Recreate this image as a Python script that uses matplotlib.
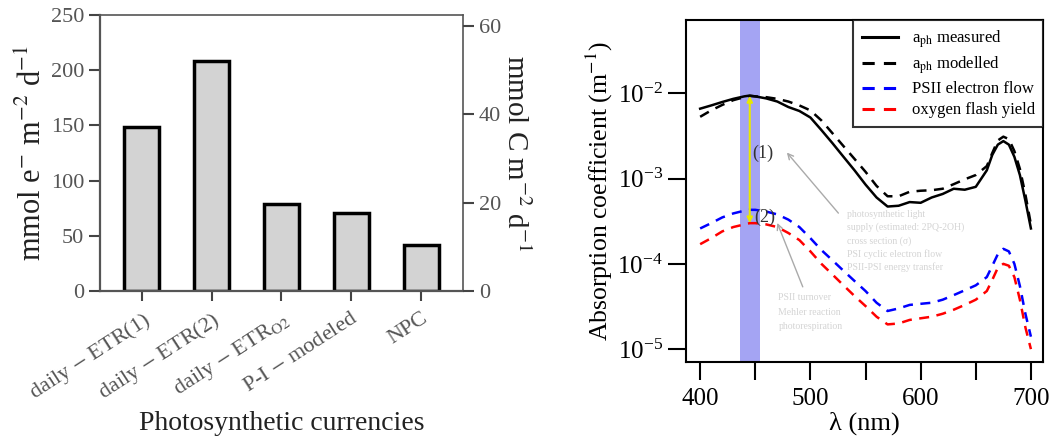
import numpy as np
import matplotlib
matplotlib.use("Agg")
import matplotlib.pyplot as plt

plt.rcParams['font.family'] = ['Liberation Serif', 'DejaVu Serif']
plt.rcParams['mathtext.fontset'] = 'stix'

# ---------------- data: left panel (bars) ----------------
currencies = ['daily $-$ ETR(1)', 'daily $-$ ETR(2)', 'daily $-$ ETR$_{\\mathrm{O2}}$',
              'P-I $-$ modeled', 'NPC']
rates = [149, 208, 79, 71, 42]

# ---------------- data: right panel (spectra) ----------------
wl = [400, 410, 420, 430, 440, 445, 450, 460, 470, 480, 490, 500, 510, 520, 530,
      540, 550, 560, 570, 580, 590, 600, 610, 620, 630, 640, 650, 660, 665, 670,
      675, 680, 685, 690, 695, 700]
aph_measured = [6.6e-3, 7.2e-3, 7.9e-3, 8.6e-3, 9.2e-3, 9.4e-3, 9.2e-3, 8.7e-3, 8.0e-3,
                6.9e-3, 6.2e-3, 5.2e-3, 3.7e-3, 2.6e-3, 1.8e-3, 1.25e-3, 8.5e-4, 6.0e-4,
                4.7e-4, 4.8e-4, 5.3e-4, 5.2e-4, 6.0e-4, 6.6e-4, 7.6e-4, 7.4e-4, 8.0e-4,
                1.25e-3, 1.9e-3, 2.5e-3, 2.75e-3, 2.5e-3, 1.8e-3, 1.1e-3, 5.5e-4, 2.6e-4]
aph_modelled = [5.3e-3, 6.3e-3, 7.3e-3, 8.3e-3, 9.0e-3, 9.3e-3, 9.2e-3, 9.0e-3, 8.6e-3,
                8.0e-3, 7.2e-3, 6.3e-3, 4.8e-3, 3.4e-3, 2.4e-3, 1.7e-3, 1.2e-3, 8.2e-4,
                6.2e-4, 6.2e-4, 7.0e-4, 7.2e-4, 7.3e-4, 7.6e-4, 8.6e-4, 9.8e-4, 1.1e-3,
                1.4e-3, 2.0e-3, 2.8e-3, 3.1e-3, 2.9e-3, 2.1e-3, 1.3e-3, 6.5e-4, 2.9e-4]
psii_flow = [2.6e-4, 3.0e-4, 3.5e-4, 3.9e-4, 4.2e-4, 4.3e-4, 4.3e-4, 4.1e-4, 3.8e-4,
             3.3e-4, 2.7e-4, 2.0e-4, 1.45e-4, 1.1e-4, 8.3e-5, 6.3e-5, 4.8e-5, 3.5e-5,
             2.8e-5, 3.0e-5, 3.3e-5, 3.4e-5, 3.5e-5, 3.8e-5, 4.3e-5, 4.9e-5, 5.6e-5,
             7.0e-5, 9.5e-5, 1.3e-4, 1.5e-4, 1.4e-4, 1.0e-4, 5.5e-5, 2.6e-5, 1.4e-5]
o2_flash = [1.7e-4, 2.0e-4, 2.4e-4, 2.7e-4, 2.9e-4, 3.0e-4, 3.0e-4, 2.9e-4, 2.7e-4,
            2.3e-4, 1.9e-4, 1.4e-4, 1.0e-4, 7.5e-5, 5.6e-5, 4.2e-5, 3.2e-5, 2.4e-5,
            1.95e-5, 2.0e-5, 2.2e-5, 2.3e-5, 2.4e-5, 2.6e-5, 2.9e-5, 3.3e-5, 3.8e-5,
            4.8e-5, 6.5e-5, 9.0e-5, 1.0e-4, 9.5e-5, 7.0e-5, 3.8e-5, 1.8e-5, 1.0e-5]

note1 = ['photosynthetic light', 'supply (estimated: 2PQ-2OH)', 'cross section (σ)',
         'PSI cyclic electron flow', 'PSII-PSI energy transfer']
note2 = ['PSII turnover', 'Mehler reaction', 'photorespiration']

fig = plt.figure(figsize=(10.6, 4.43), dpi=100)

# ---------------- left panel ----------------
ax1 = fig.add_axes([0.0943, 0.343, 0.3425, 0.623])
x = np.arange(len(currencies))
ax1.bar(x, rates, width=0.5, color='#d3d3d3', edgecolor='black', linewidth=2.5)
ax1.set_xlim(-0.6, 4.6)
ax1.set_ylim(0, 250)
ax1.set_yticks([0, 50, 100, 150, 200, 250])
ax1.set_xticks(x)
ax1.set_xticklabels(currencies, rotation=33, ha='right', rotation_mode='anchor',
                    color='#555555', fontsize=16)
ax1.tick_params(axis='y', labelsize=16, labelcolor='#555555', direction='out',
                length=8, width=1.5, color='#444444')
ax1.tick_params(axis='x', direction='out', length=7, width=1.5, color='#444444', pad=6)
for s in ax1.spines.values():
    s.set_color('#555555')
    s.set_linewidth(1.2)
ax1.spines['left'].set_linewidth(1.6)
ax1.spines['bottom'].set_linewidth(1.6)
ax1.set_ylabel('mmol e$^{\\mathrm{-}}$ m$^{-2}$ d$^{-1}$', fontsize=22, color='#222222',
               labelpad=2)
fig.text(0.266, 0.045, 'Photosynthetic currencies', fontsize=20, color='#222222',
         ha='center', va='center')

ax1b = ax1.twinx()
ax1b.set_ylim(0, 62.5)
ax1b.set_yticks([0, 20, 40, 60])
ax1b.tick_params(axis='y', labelsize=16, labelcolor='#555555', direction='out',
                 length=8, width=1.5, color='#444444')
for s in ax1b.spines.values():
    s.set_visible(False)
ax1b.set_ylabel('mmol C m$^{-2}$ d$^{-1}$', fontsize=21, color='#222222', rotation=270,
                labelpad=20)

# ---------------- right panel ----------------
ax2 = fig.add_axes([0.647, 0.183, 0.337, 0.772])
ax2.axvspan(436, 454, color='#9a9af2', alpha=0.9, lw=0, zorder=0)
ax2.plot(wl, aph_measured, color='black', lw=1.8, label='a$_{\\mathrm{ph}}$ measured')
ax2.plot(wl, aph_modelled, color='black', lw=1.8, ls=(0, (4, 3)),
         label='a$_{\\mathrm{ph}}$ modelled')
ax2.plot(wl, psii_flow, color='blue', lw=1.8, ls=(0, (4, 3)), label='PSII electron flow')
ax2.plot(wl, o2_flash, color='red', lw=1.8, ls=(0, (4, 3)), label='oxygen flash yield')
ax2.set_yscale('log')
ax2.set_xlim(387, 711)
ax2.set_ylim(10**-5.15, 10**-1.14)
ax2.set_xticks([400, 450, 500, 550, 600, 650, 700])
ax2.set_xticklabels(['400', '', '500', '', '600', '', '700'])
ax2.set_yticks([1e-5, 1e-4, 1e-3, 1e-2])
ax2.minorticks_off()
ax2.tick_params(axis='both', labelsize=18, direction='out', length=13, width=1.5)
ax2.tick_params(axis='x', pad=6)
for s in ax2.spines.values():
    s.set_linewidth(1.5)
ax2.set_xlabel('λ (nm)', fontsize=19, labelpad=1)
ax2.set_ylabel('Absorption coefficient (m$^{-1}$)', fontsize=18.5, labelpad=2)

# yellow double arrow across the blue band
ax2.annotate('', xy=(445, 3.0e-4), xytext=(445, 9.3e-3),
             arrowprops=dict(arrowstyle='<|-|>', color='#e8e800', lw=1.5,
                             mutation_scale=8, shrinkA=0, shrinkB=0))
ax2.text(457, 10**-2.70, '(1)', fontsize=13, color='#333333', ha='center', va='center')
ax2.text(459, 10**-3.45, '(2)', fontsize=13, color='#333333', ha='center', va='center')
ax2.annotate('', xy=(477, 10**-2.67), xytext=(527, 10**-3.43),
             arrowprops=dict(arrowstyle='->', color='#aaaaaa', lw=1.0))
ax2.annotate('', xy=(469, 10**-3.49), xytext=(494, 10**-4.30),
             arrowprops=dict(arrowstyle='->', color='#aaaaaa', lw=1.0))
for i, line in enumerate(note1):
    ax2.text(533, 10**(-3.42 - 0.155 * i), line, fontsize=7, color='#d4d4d4',
             ha='left', va='center')
for i, line in enumerate(note2):
    ax2.text(471, 10**(-4.40 - 0.17 * i), line, fontsize=7, color='#d4d4d4',
             ha='left', va='center')

leg = ax2.legend(loc='upper right', fontsize=12, frameon=True, fancybox=False,
                 edgecolor='black', handlelength=2.2, borderpad=0.5, labelspacing=0.3,
                 borderaxespad=0)
leg.get_frame().set_linewidth(1.5)
for h in leg.get_lines():
    h.set_linewidth(2.2)

fig.savefig('out.png', dpi=100)
